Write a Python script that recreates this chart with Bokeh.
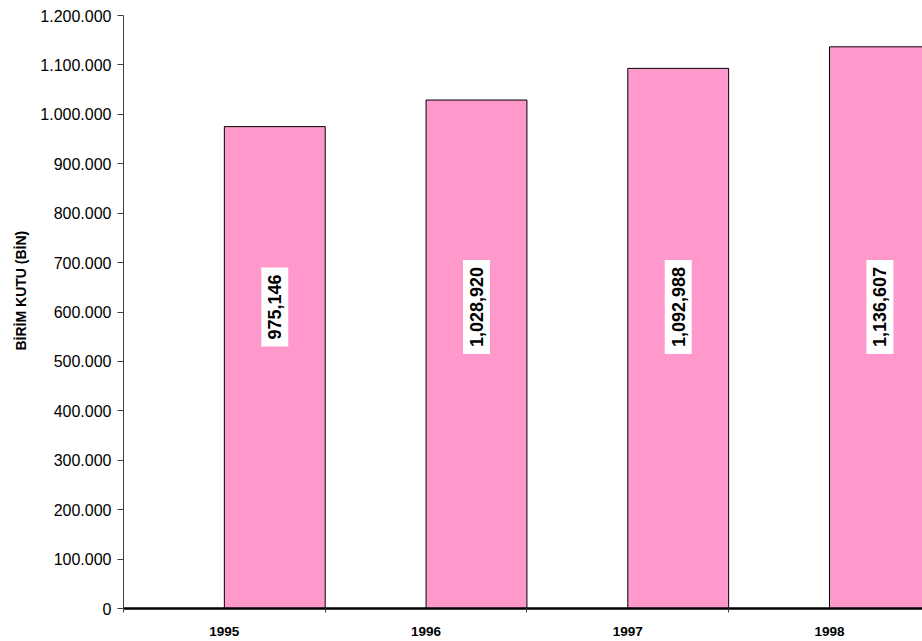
from math import pi

from bokeh.core.properties import value
from bokeh.embed import file_html
from bokeh.models import ColumnDataSource, FixedTicker, Title
from bokeh.plotting import figure
from bokeh.resources import INLINE

# Annual volume, thousand unit boxes
years = ["1995", "1996", "1997", "1998"]
units = [975146, 1028920, 1092988, 1136607]
y_ticks = [0, 100000, 200000, 300000, 400000, 500000, 600000,
           700000, 800000, 900000, 1000000, 1100000, 1200000]

FONT = "Liberation Sans"

# Each year owns one unit-wide band; its bar fills the right half of the band.
band = list(range(len(years)))
src = ColumnDataSource(dict(
    x=[b + 0.75 for b in band],
    top=units,
    label_y=[610000] * len(units),
    text=[f"{v:,}" for v in units],
))

p = figure(
    width=922, height=641,
    x_range=(0, 3.961), y_range=(0, 1200000),
    output_backend="svg", toolbar_location=None,
    min_border_left=123, min_border_right=0,
    min_border_top=15, min_border_bottom=33,
)
p.outline_line_color = None
p.xgrid.visible = False
p.ygrid.visible = False
p.background_fill_color = "white"
p.border_fill_color = "white"

p.vbar(x="x", top="top", width=0.5, bottom=0, source=src,
       fill_color="#FF99CC", line_color="black", line_width=1)

p.text(x="x", y="label_y", text="text", source=src, angle=pi / 2,
       text_align="center", text_baseline="middle",
       text_font=value(FONT), text_font_style="bold", text_font_size="18px",
       text_color="black", background_fill_color="white",
       padding=dict(left=7, right=7, top=7, bottom=7))

# Category axis: labels at band centres, tick marks at band boundaries
xa = p.xaxis[0]
xa.ticker = FixedTicker(ticks=[b + 0.5 for b in band],
                        minor_ticks=list(range(len(years) + 1)))
xa.major_label_overrides = {b + 0.5: y for b, y in zip(band, years)}
xa.major_tick_out = 0
xa.major_tick_in = 0
xa.minor_tick_out = 4
xa.minor_tick_in = 0
xa.minor_tick_line_color = "#404040"
xa.axis_line_color = "black"
xa.axis_line_width = 2.5
xa.major_label_standoff = 14
xa.major_label_text_font = FONT
xa.major_label_text_font_style = "bold"
xa.major_label_text_font_size = "13.5px"
xa.major_label_text_color = "black"

ya = p.yaxis[0]
ya.ticker = FixedTicker(ticks=y_ticks, minor_ticks=[])
ya.major_label_overrides = {t: f"{t:,}".replace(",", ".") for t in y_ticks}
ya.major_tick_out = 6
ya.major_tick_in = 0
ya.major_tick_line_color = "#404040"
ya.axis_line_color = "#404040"
ya.major_label_standoff = 6
ya.major_label_text_font = FONT
ya.major_label_text_font_size = "16px"
ya.major_label_text_color = "black"

# Vertical axis title, starting a fixed distance above the frame bottom
p.add_layout(Title(
    text="BİRİM KUTU (BİN)", align="left", offset=258, standoff=18,
    text_font=FONT, text_font_style="bold", text_font_size="14px",
    text_color="black",
), "left")

open("out.html", "w").write(file_html(p, INLINE))
